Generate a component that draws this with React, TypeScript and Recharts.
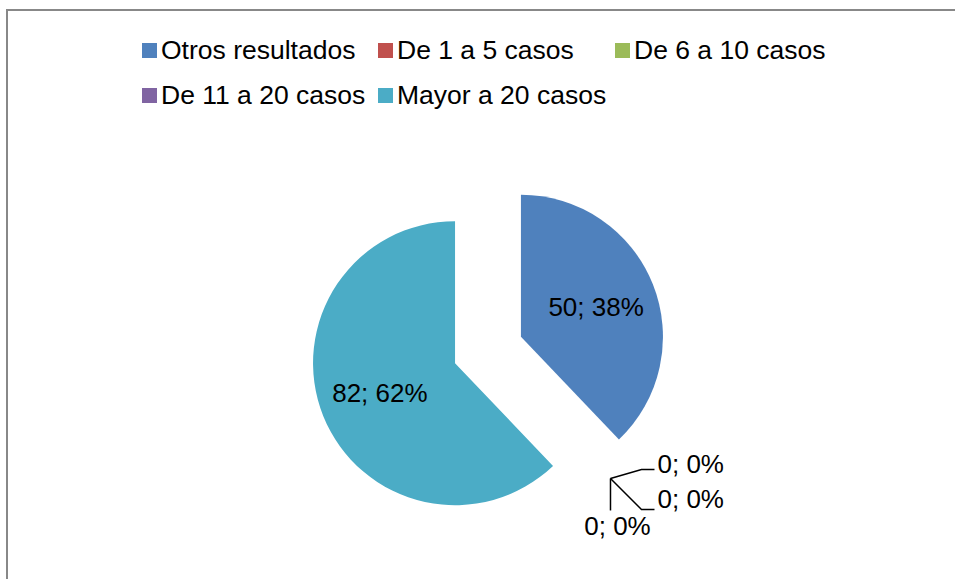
import React from "react";
import { PieChart, Pie, Cell } from "recharts";

const categories = [
  "Otros resultados",
  "De 1 a 5 casos",
  "De 6 a 10 casos",
  "De 11 a 20 casos",
  "Mayor a 20 casos",
];
const counts = [50, 0, 0, 0, 82];
const colors = ["#4F81BD", "#C0504D", "#9BBB59", "#8064A2", "#4BACC6"];

const data = categories.map((name, i) => ({ name, value: counts[i] }));
const total = counts.reduce((a, b) => a + b, 0);

const RAD = Math.PI / 180;
const CX = 488;
const CY = 350;
const R = 142;
const EXPLODE = 35.5;
const FONT = "'Liberation Sans', Arial, sans-serif";

// mid angle (Recharts convention) of each slice
const mids: number[] = [];
{
  let cum = 0;
  counts.forEach((v) => {
    mids.push(90 - (360 * (cum + v / 2)) / total);
    cum += v;
  });
}

const polar = (cx: number, cy: number, r: number, a: number) => ({
  x: cx + r * Math.cos(-a * RAD),
  y: cy + r * Math.sin(-a * RAD),
});

const labelText = (i: number) =>
  `${counts[i]}; ${Math.round((counts[i] / total) * 100)}%`;

// groups of slices drawn together (zero slices share one position)
const groups = [[0], [1, 2, 3], [4]];

const renderLabel = (group: number[]) => (props: any) => {
  const { index, cx, cy, midAngle, outerRadius } = props;
  if (!group.includes(index)) return null;
  if (counts[index] > 0) {
    const p = polar(cx, cy, outerRadius * 0.57, midAngle);
    return (
      <text
        x={p.x}
        y={p.y}
        textAnchor="middle"
        dominantBaseline="central"
        fill="#000"
        fontSize={26}
        fontFamily={FONT}
      >
        {labelText(index)}
      </text>
    );
  }
  const a = polar(cx, cy, outerRadius, midAngle);
  const j = group.indexOf(index);
  if (j === 0) {
    return (
      <g>
        <polyline
          points={`${a.x},${a.y} ${a.x + 31},${a.y - 9} ${a.x + 44},${a.y - 9}`}
          fill="none"
          stroke="#000"
          strokeWidth={1.5}
        />
        <text x={a.x + 47} y={a.y - 5} fontSize={26} fontFamily={FONT} fill="#000">
          {labelText(index)}
        </text>
      </g>
    );
  }
  if (j === 1) {
    return (
      <g>
        <polyline
          points={`${a.x},${a.y} ${a.x + 31},${a.y + 31} ${a.x + 44},${a.y + 31}`}
          fill="none"
          stroke="#000"
          strokeWidth={1.5}
        />
        <text x={a.x + 47} y={a.y + 30} fontSize={26} fontFamily={FONT} fill="#000">
          {labelText(index)}
        </text>
      </g>
    );
  }
  return (
    <g>
      <polyline
        points={`${a.x},${a.y} ${a.x},${a.y + 32}`}
        fill="none"
        stroke="#000"
        strokeWidth={1.5}
      />
      <text
        x={a.x + 7}
        y={a.y + 57}
        textAnchor="middle"
        fontSize={26}
        fontFamily={FONT}
        fill="#000"
      >
        {labelText(index)}
      </text>
    </g>
  );
};

export default function App() {
  return (
    <div
      style={{
        position: "absolute",
        left: 0,
        top: 0,
        width: 955,
        height: 579,
        overflow: "hidden",
        background: "#fff",
        fontFamily: FONT,
      }}
    >
      <div
        style={{
          position: "absolute",
          left: 6,
          top: 9,
          width: 1000,
          height: 700,
          borderLeft: "2px solid #888",
          borderTop: "2px solid #888",
        }}
      />
      <div
        style={{
          position: "absolute",
          left: 142,
          top: 27,
          width: 720,
          display: "grid",
          gridTemplateColumns: "236px 237px 240px",
          gridAutoRows: "45px",
        }}
      >
        {categories.map((c, i) => (
          <div key={c} style={{ display: "flex", alignItems: "center", whiteSpace: "nowrap" }}>
            <span
              style={{
                display: "inline-block",
                width: 15,
                height: 15,
                background: colors[i],
                marginRight: 4,
                marginTop: 1,
              }}
            />
            <span style={{ fontSize: 26.5, color: "#000", lineHeight: "30px" }}>{c}</span>
          </div>
        ))}
      </div>
      <div style={{ position: "absolute", left: 0, top: 0 }}>
        <PieChart width={955} height={579} margin={{ top: 0, right: 0, bottom: 0, left: 0 }}>
          {groups.map((group, gi) => {
            const m = mids[group[0]];
            const c = polar(CX, CY, EXPLODE, m);
            return (
              <Pie
                key={gi}
                data={data}
                dataKey="value"
                nameKey="name"
                cx={c.x}
                cy={c.y}
                outerRadius={R}
                startAngle={90}
                endAngle={-270}
                stroke="none"
                isAnimationActive={false}
                labelLine={false}
                label={renderLabel(group)}
              >
                {data.map((d, i) => (
                  <Cell key={d.name} fill={group.includes(i) ? colors[i] : "transparent"} />
                ))}
              </Pie>
            );
          })}
        </PieChart>
      </div>
    </div>
  );
}
